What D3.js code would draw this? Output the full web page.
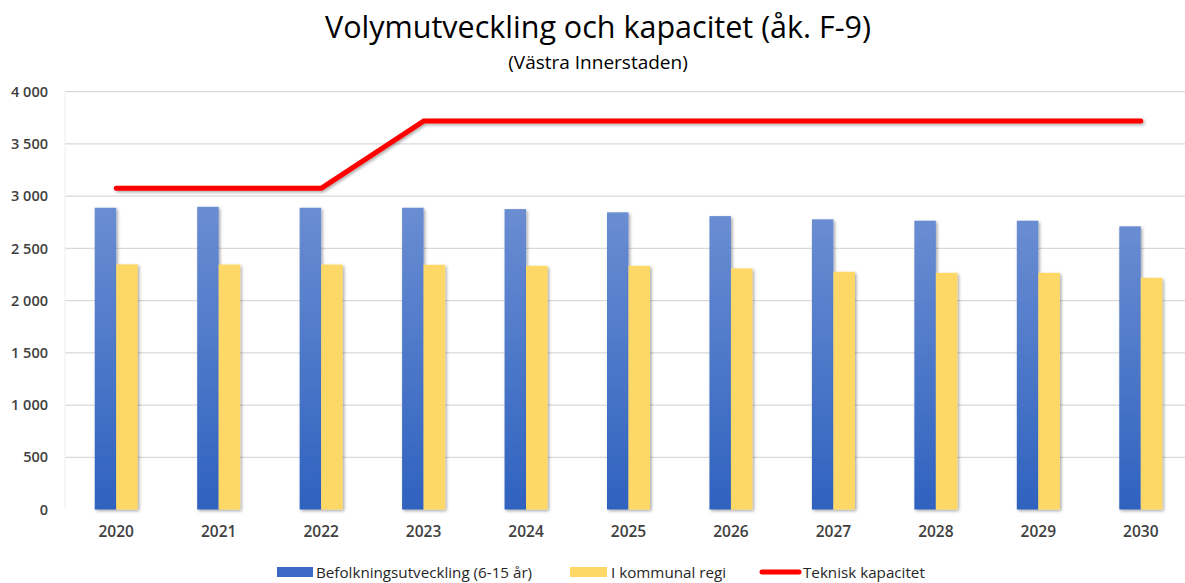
<!DOCTYPE html>
<html><head><meta charset="utf-8">
<script src="https://cdn.jsdelivr.net/npm/d3@7"></script>
<style>
html,body{margin:0;padding:0;background:#fff;}
svg{display:block;}
text{font-family:"Open Sans","Liberation Sans",sans-serif;}
</style></head>
<body>
<svg id="c" width="1185" height="583"></svg>
<script>
const years = ["2020","2021","2022","2023","2024","2025","2026","2027","2028","2029","2030"];
const befolkning = [2889, 2898, 2889, 2889, 2876, 2845, 2809, 2778, 2765, 2765, 2711];
const kommunal = [2347, 2345, 2345, 2343, 2333, 2333, 2308, 2276, 2266, 2266, 2218];
const kapacitet = [3075, 3075, 3075, 3719, 3719, 3719, 3719, 3719, 3719, 3719, 3719];
const yTicks = [0, 500, 1000, 1500, 2000, 2500, 3000, 3500, 4000];
const seriesNames = ["Befolkningsutveckling (6-15 år)", "I kommunal regi", "Teknisk kapacitet"];
const title = "Volymutveckling och kapacitet (åk. F-9)";
const subtitle = "(Västra Innerstaden)";

const svg = d3.select("#c");
const defs = svg.append("defs");
const grad = defs.append("linearGradient").attr("id","blueGrad").attr("x1",0).attr("y1",0).attr("x2",0).attr("y2",1);
grad.append("stop").attr("offset","0%").attr("stop-color","#6a8dd2");
grad.append("stop").attr("offset","100%").attr("stop-color","#2f62bf");
const sh = defs.append("filter").attr("id","shadow").attr("x","-30%").attr("y","-30%").attr("width","160%").attr("height","160%");
sh.append("feDropShadow").attr("dx",1.5).attr("dy",1.5).attr("stdDeviation",1.5).attr("flood-color","#000").attr("flood-opacity",0.35);

const x0 = d3.scaleBand().domain(years).range([65, 1192]);
const y = d3.scaleLinear().domain([0, 4000]).range([509.5, 91.7]);
const fmt = v => d3.format(",")(v).replace(",", " ");

// gridlines
svg.append("g").selectAll("line").data(yTicks.filter(d=>d>0)).join("line")
  .attr("x1",65).attr("x2",1185).attr("y1",d=>y(d)).attr("y2",d=>y(d))
  .attr("stroke","#d9d9d9").attr("stroke-width",1.2);
svg.append("line").attr("x1",65).attr("x2",65).attr("y1",y(4000)).attr("y2",y(0))
  .attr("stroke","#eeeeee").attr("stroke-width",1);

// y axis labels
const yAxis = d3.axisLeft(y).tickValues(yTicks).tickFormat(fmt).tickSize(0).tickPadding(0);
const ga = svg.append("g").attr("transform","translate(48,0)").call(yAxis);
ga.select(".domain").remove();
ga.selectAll("text").attr("font-size",14.5).attr("font-weight",600).attr("fill","#404040")
  .attr("font-family","'Open Sans',sans-serif");

// bars
const center = d => x0(d) + x0.bandwidth()/2;
const bw = 21.5;
svg.append("g").attr("filter","url(#shadow)").selectAll("rect").data(years).join("rect")
  .attr("x", d => center(d) - bw).attr("width", bw)
  .attr("y", (d,i) => y(befolkning[i])).attr("height", (d,i) => y(0) - y(befolkning[i]))
  .attr("fill","url(#blueGrad)");
svg.append("g").attr("filter","url(#shadow)").selectAll("rect").data(years).join("rect")
  .attr("x", d => center(d)).attr("width", bw)
  .attr("y", (d,i) => y(kommunal[i])).attr("height", (d,i) => y(0) - y(kommunal[i]))
  .attr("fill","#fdd866");

// baseline
svg.append("line").attr("x1",65).attr("x2",1185).attr("y1",y(0)+1).attr("y2",y(0)+1)
  .attr("stroke","#8c8c8c").attr("stroke-width",2).attr("filter","url(#shadow)");

// x labels
const xAxis = d3.axisBottom(x0).tickSize(0).tickPadding(0);
const gx = svg.append("g").attr("transform","translate(0,526)").call(xAxis);
gx.select(".domain").remove();
gx.selectAll("text").attr("font-size",15.5).attr("font-weight",600).attr("fill","#404040")
  .attr("font-family","'Open Sans',sans-serif");

// line
const line = d3.line().x((d,i)=>center(years[i])).y(d=>y(d));
svg.append("path").datum(kapacitet).attr("d",line).attr("fill","none")
  .attr("stroke","#ff0000").attr("stroke-width",5).attr("stroke-linecap","round").attr("stroke-linejoin","round")
  .attr("filter","url(#shadow)");

// titles
svg.append("text").attr("x",598).attr("y",38).attr("text-anchor","middle")
  .attr("font-size",30.5).attr("fill","#000").text(title);
svg.append("text").attr("x",598).attr("y",69).attr("text-anchor","middle")
  .attr("font-size",19).attr("fill","#000").text(subtitle);

// legend
const lg = svg.append("g").attr("font-size",15.2).attr("fill","#262626");
lg.append("rect").attr("x",277).attr("y",567).attr("width",36).attr("height",10).attr("fill","#3b69c4");
lg.append("text").attr("x",316).attr("y",577.5).text(seriesNames[0]);
lg.append("rect").attr("x",570).attr("y",567).attr("width",37).attr("height",10).attr("fill","#fdd866");
lg.append("text").attr("x",611).attr("y",577.5).text(seriesNames[1]);
lg.append("line").attr("x1",762).attr("x2",799).attr("y1",572).attr("y2",572)
  .attr("stroke","#ff0000").attr("stroke-width",5).attr("stroke-linecap","round");
lg.append("text").attr("x",803).attr("y",577.5).text(seriesNames[2]);
</script>
</body></html>
